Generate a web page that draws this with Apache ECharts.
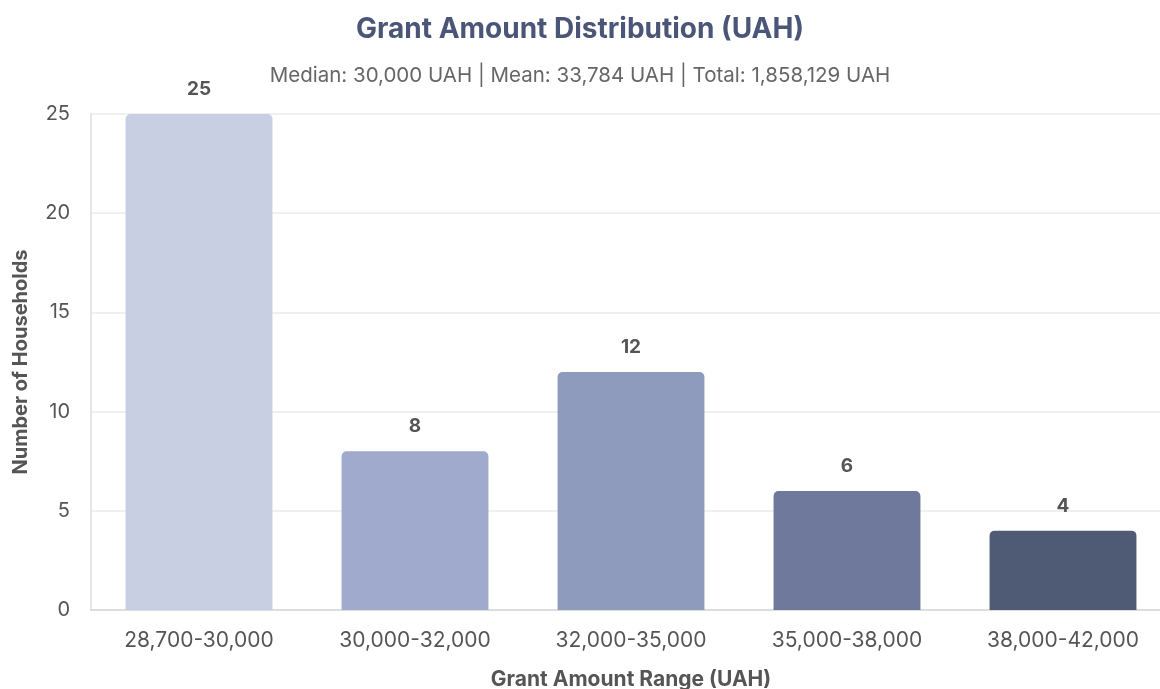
<!DOCTYPE html>
<html>
<head>
<meta charset="utf-8">
<script src="https://cdn.jsdelivr.net/npm/echarts@6/dist/echarts.min.js"></script>
<style>
	html, body { margin: 0; padding: 0; background: #fff; }
	#chart { width: 1160px; height: 689px; }
</style>
</head>
<body>
<div id="chart"></div>
<script>
var categories = ["28,700-30,000", "30,000-32,000", "32,000-35,000", "35,000-38,000", "38,000-42,000"];
var households = [25, 8, 12, 6, 4];
var barColors = ["#c9cfe3", "#a0aacd", "#8f9bbd", "#6e799c", "#4f5a75"];
var yTicks = [0, 5, 10, 15, 20, 25];

var myChart = echarts.init(document.getElementById("chart"));

// 每个柱子单独配色
var barData = [];
for (var i = 0; i < households.length; i++) {
	barData.push({
		value: households[i],
		itemStyle: { color: barColors[i] }
	});
}

myChart.setOption({
	animation: false,
	title: {
		text: "Grant Amount Distribution (UAH)",
		subtext: "Median: 30,000 UAH | Mean: 33,784 UAH | Total: 1,858,129 UAH",
		left: "center",
		top: 11,
		itemGap: 21,
		textStyle: {
			fontFamily: "Inter",
			fontSize: 28,
			fontWeight: "bold",
			color: "#4a5578"
		},
		subtextStyle: {
			fontFamily: "Inter",
			fontSize: 20.5,
			color: "#666"
		}
	},
	grid: {
		left: 91,
		right: -11,
		top: 114,
		bottom: 79,
		outerBoundsMode: "none"
	},
	xAxis: {
		type: "category",
		data: categories,
		name: "Grant Amount Range (UAH)",
		nameLocation: "middle",
		nameGap: 59,
		nameTextStyle: {
			fontFamily: "Inter",
			fontSize: 21,
			fontWeight: "bold",
			color: "#555"
		},
		axisLine: { lineStyle: { color: "#ddd", width: 2 } },
		axisTick: { show: false },
		axisLabel: {
			fontFamily: "Inter",
			fontSize: 21,
			color: "#555",
			margin: 20
		}
	},
	yAxis: {
		type: "value",
		min: yTicks[0],
		max: yTicks[yTicks.length - 1],
		interval: 5,
		name: "Number of Households",
		nameLocation: "middle",
		nameGap: 60,
		nameTextStyle: {
			fontFamily: "Inter",
			fontSize: 20,
			fontWeight: "bold",
			color: "#555"
		},
		axisLine: { show: true, lineStyle: { color: "#e6e6e6", width: 2 } },
		axisTick: { show: false },
		axisLabel: {
			fontFamily: "Inter",
			fontSize: 20,
			color: "#555",
			margin: 21
		},
		splitLine: { lineStyle: { color: "#f0f0f0", width: 2 } }
	},
	series: [{
		type: "bar",
		data: barData,
		barWidth: "68%",
		itemStyle: { borderRadius: [5, 5, 0, 0] },
		label: {
			show: true,
			position: "top",
			distance: 15,
			fontFamily: "Inter",
			fontSize: 19,
			fontWeight: "bold",
			color: "#555"
		}
	}]
});
</script>
</body>
</html>
